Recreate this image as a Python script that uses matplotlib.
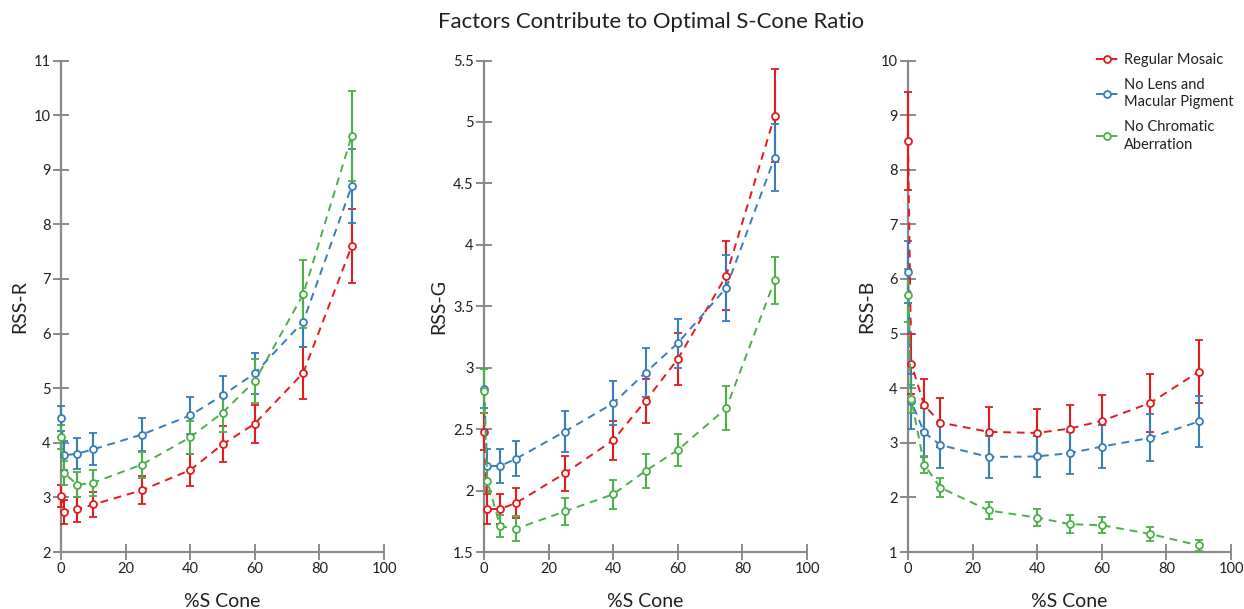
import matplotlib as mpl
mpl.use('Agg')
import matplotlib.pyplot as plt
import numpy as np

plt.rcParams['font.family'] = ['Lato', 'DejaVu Sans']

s_cone = [0, 1, 5, 10, 25, 40, 50, 60, 75, 90]
series_names = ["Regular Mosaic", "No Lens and\nMacular Pigment", "No Chromatic\nAberration"]
colors = ["#e41a1c", "#377eb8", "#4daf4a"]

# RSS-R
r_regular = [3.03, 2.73, 2.78, 2.87, 3.13, 3.50, 3.97, 4.35, 5.28, 7.60]
r_regular_err = [0.20, 0.22, 0.23, 0.23, 0.26, 0.30, 0.33, 0.35, 0.47, 0.68]
r_nolens = [4.45, 3.77, 3.80, 3.88, 4.15, 4.50, 4.87, 5.27, 6.22, 8.70]
r_nolens_err = [0.23, 0.27, 0.28, 0.29, 0.30, 0.34, 0.35, 0.37, 0.47, 0.68]
r_nochrom = [4.10, 3.45, 3.23, 3.27, 3.60, 4.10, 4.55, 5.13, 6.72, 9.62]
r_nochrom_err = [0.22, 0.22, 0.23, 0.24, 0.24, 0.30, 0.35, 0.40, 0.62, 0.82]

# RSS-G
g_regular = [2.48, 1.85, 1.85, 1.90, 2.14, 2.41, 2.73, 3.07, 3.75, 5.05]
g_regular_err = [0.15, 0.12, 0.12, 0.12, 0.14, 0.16, 0.18, 0.21, 0.28, 0.38]
g_nolens = [2.83, 2.20, 2.20, 2.26, 2.48, 2.71, 2.96, 3.20, 3.65, 4.71]
g_nolens_err = [0.16, 0.14, 0.14, 0.14, 0.17, 0.18, 0.20, 0.20, 0.27, 0.27]
g_nochrom = [2.81, 2.08, 1.71, 1.69, 1.83, 1.97, 2.16, 2.33, 2.67, 3.71]
g_nochrom_err = [0.18, 0.10, 0.09, 0.10, 0.11, 0.12, 0.14, 0.13, 0.18, 0.19]

# RSS-B
b_regular = [8.53, 4.45, 3.69, 3.37, 3.20, 3.18, 3.26, 3.40, 3.73, 4.30]
b_regular_err = [0.90, 0.55, 0.48, 0.45, 0.45, 0.44, 0.44, 0.47, 0.53, 0.58]
b_nolens = [6.13, 3.76, 3.19, 2.96, 2.74, 2.75, 2.81, 2.93, 3.09, 3.39]
b_nolens_err = [0.57, 0.50, 0.45, 0.42, 0.38, 0.37, 0.38, 0.40, 0.43, 0.47]
b_nochrom = [5.70, 3.80, 2.60, 2.18, 1.76, 1.63, 1.51, 1.49, 1.33, 1.12]
b_nochrom_err = [0.48, 0.25, 0.15, 0.17, 0.16, 0.16, 0.16, 0.15, 0.12, 0.10]

panels = [
    ("RSS-R", (2, 11), np.arange(2, 12, 1),
     [(r_regular, r_regular_err), (r_nolens, r_nolens_err), (r_nochrom, r_nochrom_err)]),
    ("RSS-G", (1.5, 5.5), np.arange(1.5, 5.51, 0.5),
     [(g_regular, g_regular_err), (g_nolens, g_nolens_err), (g_nochrom, g_nochrom_err)]),
    ("RSS-B", (1, 10), np.arange(1, 11, 1),
     [(b_regular, b_regular_err), (b_nolens, b_nolens_err), (b_nochrom, b_nochrom_err)]),
]

W, H = 1244, 609
fig = plt.figure(figsize=(W / 100, H / 100), dpi=100)
lefts = [61, 484, 908]
ax_w = 323
spine_col = "#8a8a8a"
txt_col = "#231f20"

handles = []
for left, (ylabel, ylim, yticks, data) in zip(lefts, panels):
    ax = fig.add_axes([left / W, 1 - 552 / H, ax_w / W, (552 - 60.5) / H])
    for (vals, errs), col, name in zip(data, colors, series_names):
        ax.errorbar(s_cone, vals, yerr=errs, color=col, ecolor=col, elinewidth=1.5,
                    capsize=3, capthick=1.3, linestyle='none', clip_on=False, zorder=3)
        h, = ax.plot(s_cone, vals, color=col, linestyle=(0, (4, 3)), linewidth=1.4,
                     marker='o', markersize=5, markerfacecolor='white',
                     markeredgewidth=1.3, clip_on=False, zorder=4, label=name)
        if len(handles) < 3:
            handles.append(h)
    ax.set_xlim(0, 100)
    ax.set_ylim(*ylim)
    ax.set_xticks([0, 20, 40, 60, 80, 100])
    ax.set_yticks(yticks)
    ax.set_yticklabels([("%g" % t) for t in yticks])
    for side in ["top", "right"]:
        ax.spines[side].set_visible(False)
    for side in ["left", "bottom"]:
        ax.spines[side].set_color(spine_col)
        ax.spines[side].set_linewidth(1.6)
    ax.tick_params(direction='inout', length=11, width=1.4, color=spine_col,
                   labelsize=10.5, labelcolor=txt_col, pad=2)
    ax.set_xlabel("%S Cone", fontsize=14, color=txt_col, labelpad=12)
    ax.set_ylabel(ylabel, fontsize=14, color=txt_col, labelpad=4)
    ax.patch.set_visible(False)

fig.text(651 / W, 1 - 22 / H, "Factors Contribute to Optimal S-Cone Ratio",
         ha='center', va='center', fontsize=15.9, color=txt_col)

leg = fig.legend(handles=handles, labels=series_names, loc='upper left',
                 bbox_to_anchor=(1083 / W, 1 - 40 / H), frameon=False, fontsize=10.5,
                 handlelength=1.5, handletextpad=0.4, labelspacing=0.75, labelcolor=txt_col)
for t in leg.get_texts():
    t.set_linespacing(1.3)

plt.savefig("out.png", dpi=100)
